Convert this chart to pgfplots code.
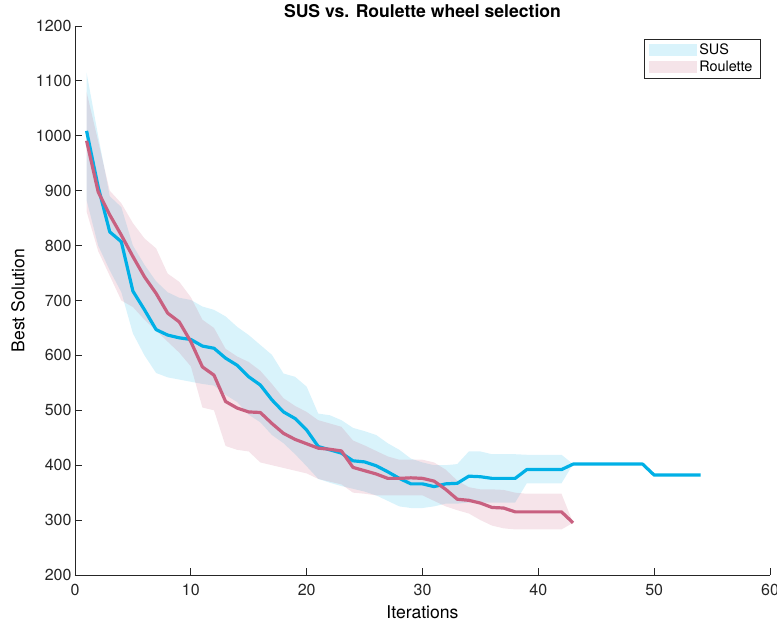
\documentclass[border=0pt]{standalone}
\usepackage{fontspec}
\setmainfont{TeX Gyre Heros}
\usepackage{pgfplots}
\pgfplotsset{compat=1.18}
\usepgfplotslibrary{fillbetween}

\definecolor{sus}{RGB}{0,176,230}
\definecolor{rou}{RGB}{200,96,128}
\definecolor{axgray}{RGB}{38,38,38}

\pgfplotsset{wide box legend/.style={
    legend image code/.code={\fill[##1] (0pt,-6pt) rectangle (48pt,6pt);}}}

% mean best solution per iteration
\pgfplotstableread{
x y
1 1009
2 907
3 825
4 807
5 717
6 683
7 647
8 637
9 632
10 629
11 617
12 613
13 595
14 582
15 561
16 546
17 519
18 497
19 485
20 464
21 434
22 428
23 422
24 408
25 406
26 399
27 388
28 376
29 366
30 366
31 361
32 366
33 367
34 380
35 379
36 376
37 376
38 376
39 392
40 392
41 392
42 392
43 402
44 402
45 402
46 402
47 402
48 402
49 402
50 382
51 382
52 382
53 382
54 382
}\susmean

% spread band (lower / upper)
\pgfplotstableread{
x lo hi
1 883 1115
2 800 1000
3 755 890
4 715 870
5 640 800
6 600 765
7 568 735
8 560 715
9 556 705
10 552 701
11 548 689
12 545 683
13 528 671
14 515 652
15 492 637
16 478 619
17 455 601
18 440 567
19 420 561
20 398 543
21 375 494
22 368 491
23 362 482
24 357 468
25 352 462
26 345 455
27 335 440
28 325 428
29 322 412
30 322 405
31 325 400
32 330 400
33 330 402
34 332 425
35 332 425
36 332 420
37 332 420
38 332 420
39 367 419
40 367 419
41 367 419
42 367 419
43 402 402
}\susband

\pgfplotstableread{
x y lo hi
1 991 862 1080
2 898 790 990
3 856 745 900
4 819 700 877
5 780 688 841
6 743 665 813
7 713 645 795
8 677 625 749
9 661 605 734
10 625 580 706
11 579 505 665
12 564 500 650
13 516 435 612
14 504 428 598
15 497 425 588
16 496 405 572
17 476 400 548
18 458 395 522
19 447 390 508
20 439 385 497
21 431 375 482
22 429 370 476
23 426 365 470
24 396 350 445
25 390 348 436
26 384 345 426
27 376 345 416
28 376 345 410
29 377 345 410
30 376 345 410
31 371 335 405
32 356 325 392
33 338 318 372
34 336 312 360
35 331 300 356
36 323 290 356
37 322 285 355
38 315 283 350
39 315 283 348
40 315 283 348
41 315 283 348
42 315 283 348
43 295 295 295
}\roultab

\begin{document}
\begin{tikzpicture}
\begin{axis}[
    scale only axis,
    width=695pt, height=549pt,
    at={(0,0)}, anchor=south west,
    xmin=0, xmax=60, ymin=200, ymax=1200,
    xtick={0,10,...,60},
    ytick={200,300,...,1200},
    axis x line*=bottom, axis y line*=left,
    axis line style={-, axgray, line width=0.8pt},
    tick align=inside,
    major tick length=7pt,
    tick style={axgray, line width=0.8pt},
    ticklabel style={font=\fontsize{16}{19}\selectfont, text=axgray},
    xticklabel style={yshift=-6pt},
    /pgf/number format/assume math mode=true,
    /pgf/number format/1000 sep={},
    title={SUS vs. Roulette wheel selection},
    title style={font=\fontsize{17.6}{21}\selectfont\bfseries,
                 at={(axis description cs:0.5,1.016)}, anchor=center},
    xlabel={Iterations},
    ylabel={Best Solution},
    xlabel style={font=\fontsize{17.6}{21}\selectfont,
                  at={(axis description cs:0.5,-0.068)}, anchor=center},
    ylabel style={font=\fontsize{17.6}{21}\selectfont,
                  at={(axis description cs:-0.082,0.5)}, anchor=center},
    legend style={at={(axis description cs:0.986,0.977)}, anchor=north east,
                  font=\fontsize{14.4}{17}\selectfont,
                  draw=axgray, line width=0.6pt, fill=white,
                  inner xsep=5.5pt, inner ysep=3pt, row sep=1pt},
    legend cell align=left,
]
\addplot[name path=sushi, draw=none, forget plot] table[x=x, y=hi] {\susband};
\addplot[name path=suslo, draw=none, forget plot] table[x=x, y=lo] {\susband};
\addplot[fill=sus, fill opacity=0.15, draw=none, wide box legend]
         fill between[of=sushi and suslo];
\addlegendentry{SUS}
\addplot[sus, line width=3.2pt, line join=round, forget plot] table[x=x, y=y] {\susmean};

\addplot[name path=rouhi, draw=none, forget plot] table[x=x, y=hi] {\roultab};
\addplot[name path=roulo, draw=none, forget plot] table[x=x, y=lo] {\roultab};
\addplot[fill=rou, fill opacity=0.17, draw=none, wide box legend]
         fill between[of=rouhi and roulo];
\addlegendentry{Roulette}
\addplot[rou, line width=3.2pt, line join=round, forget plot] table[x=x, y=y] {\roultab};
\end{axis}
\pgfresetboundingbox
\path (-75pt,-46pt) rectangle (702pt,575pt);
\end{tikzpicture}
\end{document}
